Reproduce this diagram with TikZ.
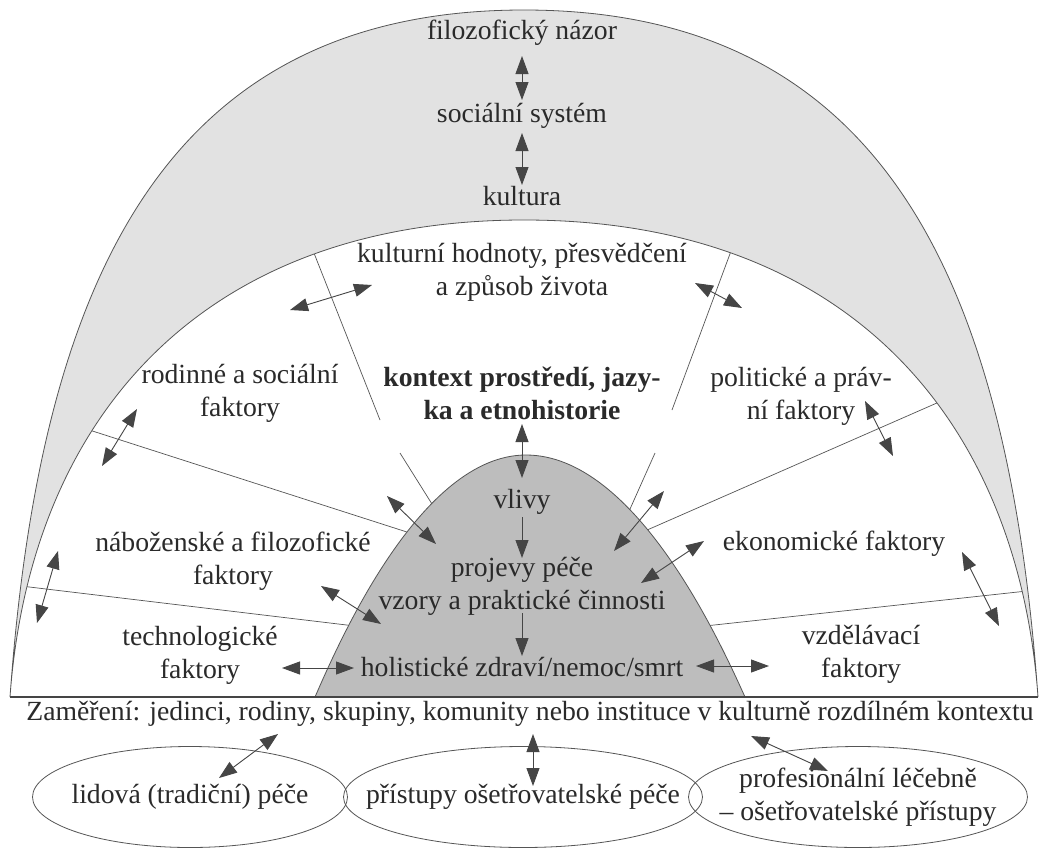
\documentclass[tikz,border=0pt]{standalone}
\usepackage{fontspec}
\setmainfont{Liberation Serif}
\usetikzlibrary{arrows.meta,shapes.geometric}
\definecolor{txt}{HTML}{2A2A2A}
\definecolor{band}{HTML}{E2E2E2}
\definecolor{domec}{HTML}{BDBDBD}
\definecolor{lnc}{HTML}{555555}
\definecolor{arr}{HTML}{454545}
\begin{document}
\begin{tikzpicture}[x=1pt,y=-1pt,
  lbl/.style={text=txt, font=\fontsize{27.7}{33}\selectfont, align=center, inner sep=0pt},
  dbl/.style={{Triangle[length=18pt,width=13pt]}-{Triangle[length=18pt,width=13pt]}, draw=arr, line width=0.9pt},
  one/.style={-{Triangle[length=18pt,width=13pt]}, draw=arr, line width=0.9pt},
  radial/.style={draw=lnc, line width=0.7pt},
  arch/.style={draw=lnc, line width=0.8pt},
  oval/.style={ellipse, draw=lnc, line width=0.8pt, inner sep=0pt}
]
\useasboundingbox (0,0) rectangle (1039,849);
\fill[white] (0,0) rectangle (1039,849);
% key points
\coordinate (BL) at (10,697);
\coordinate (BR) at (1038,697);
\coordinate (OT) at (524,10);
\coordinate (IT) at (524,220);
\coordinate (DL) at (315,697);
\coordinate (DT) at (526,455);
\coordinate (DR) at (745,697);
% radial division lines
\coordinate (r1a) at (310,243); \coordinate (r1b) at (380,420);
\coordinate (r1c) at (400,453); \coordinate (r1d) at (437,512);
\coordinate (r2a) at (734,243); \coordinate (r2b) at (672,410);
\coordinate (r2c) at (655,453); \coordinate (r2d) at (626,518);
\coordinate (r3a) at (80,427);  \coordinate (r3b) at (410,533);
\coordinate (r4a) at (946,399); \coordinate (r4b) at (638,534);
\coordinate (r5a) at (21,586);  \coordinate (r5b) at (355,626);
\coordinate (r6a) at (1027,591); \coordinate (r6b) at (705,626);
\draw[radial] (r1a) -- (r1b);
\draw[radial] (r1c) -- (r1d);
\draw[radial] (r2a) -- (r2b);
\draw[radial] (r2c) -- (r2d);
\draw[radial] (r3a) -- (r3b);
\draw[radial] (r4a) -- (r4b);
\draw[radial] (r5a) -- (r5b);
\draw[radial] (r6a) -- (r6b);
% outer band (outer arch, then inner arch back)
\filldraw[arch, fill=band] (BL) .. controls (40,280) and (165,10) .. (OT) .. controls (883,10) and (1008,280) .. (BR)
  .. controls (1018,420) and (848,220) .. (IT) .. controls (200,220) and (30,420) .. cycle;
% dome
\fill[domec] (DL) parabola bend (DT) (DR) -- cycle;
\draw[arch] (DL) parabola bend (DT) (DR);
% base line
\draw[draw=arr, line width=2.6pt] (BL) -- (BR);
% texts
\node[lbl] (fil) at (522,33) {filozofický názor};
\node[lbl] (soc) at (522,116) {sociální systém};
\node[lbl] (kul) at (522,196) {kultura};
\node[lbl] (hod) at (522,272) {kulturní hodnoty, přesvědčení\\a způsob života};
\node[lbl] (rod) at (240,393) {rodinné a sociální\\faktory};
\node[lbl, font=\fontsize{27.7}{33}\selectfont\bfseries] (ctx) at (522,393) {kontext prostředí, jazy-\\ka a etnohistorie};
\node[lbl] (pol) at (801,396) {politické a práv-\\ní faktory};
\node[lbl] (vli) at (522,502) {vlivy};
\node[lbl] (nab) at (233,561) {náboženské a filozofické\\faktory};
\node[lbl] (eko) at (834,544) {ekonomické faktory};
\node[lbl] (prj) at (522,586) {projevy péče\\vzory a praktické činnosti};
\node[lbl] (tec) at (200,655) {technologické\\faktory};
\node[lbl] (vzd) at (861,654) {vzdělávací\\faktory};
\node[lbl] (hol) at (522,667) {holistické zdraví/nemoc/smrt};
\node[lbl] (zam) at (530,714) {Zaměření: jedinci, rodiny, skupiny, komunity nebo instituce v kulturně rozdílném kontextu};
% ellipses
\node[oval, minimum width=315pt, minimum height=101pt] (e1) at (190,797) {};
\node[oval, minimum width=359pt, minimum height=101pt] (e2) at (523,797) {};
\node[oval, minimum width=339pt, minimum height=101pt] (e3) at (858,797) {};
\node[lbl] (lid) at (e1) {lidová (tradiční) péče};
\node[lbl] (pri) at (e2) {přístupy ošetřovatelské péče};
\node[lbl] (pro) at (e3) {profesionální léčebně\\– ošetřovatelské přístupy};
% arrow end points
\coordinate (a1a) at (522,56);  \coordinate (a1b) at (522,100);
\coordinate (a2a) at (522,133); \coordinate (a2b) at (522,185);
\coordinate (a3a) at (290,310); \coordinate (a3b) at (372,285);
\coordinate (a4a) at (695,283); \coordinate (a4b) at (742,308);
\coordinate (a5a) at (137,409); \coordinate (a5b) at (102,466);
\coordinate (a6a) at (865,401); \coordinate (a6b) at (893,456);
\coordinate (a7a) at (522,424); \coordinate (a7b) at (522,478);
\coordinate (a8a) at (522,517); \coordinate (a8b) at (522,558);
\coordinate (a9a) at (522,613); \coordinate (a9b) at (522,656);
\coordinate (a10a) at (387,496); \coordinate (a10b) at (436,544);
\coordinate (a11a) at (664,491); \coordinate (a11b) at (614,551);
\coordinate (a12a) at (58,551); \coordinate (a12b) at (37,623);
\coordinate (a13a) at (321,586); \coordinate (a13b) at (381,624);
\coordinate (a14a) at (704,541); \coordinate (a14b) at (641,583);
\coordinate (a15a) at (962,552); \coordinate (a15b) at (999,626);
\coordinate (a16a) at (282,668); \coordinate (a16b) at (354,668);
\coordinate (a17a) at (696,666); \coordinate (a17b) at (769,666);
\coordinate (a18a) at (278,734); \coordinate (a18b) at (219,778);
\coordinate (a19a) at (533,734); \coordinate (a19b) at (533,786);
\coordinate (a20a) at (751,736); \coordinate (a20b) at (828,771);
\draw[dbl] (a1a) -- (a1b);
\draw[dbl] (a2a) -- (a2b);
\draw[dbl] (a3a) -- (a3b);
\draw[dbl] (a4a) -- (a4b);
\draw[dbl] (a5a) -- (a5b);
\draw[dbl] (a6a) -- (a6b);
\draw[dbl] (a7a) -- (a7b);
\draw[one] (a8a) -- (a8b);
\draw[one] (a9a) -- (a9b);
\draw[dbl] (a10a) -- (a10b);
\draw[dbl] (a11a) -- (a11b);
\draw[dbl] (a12a) -- (a12b);
\draw[dbl] (a13a) -- (a13b);
\draw[dbl] (a14a) -- (a14b);
\draw[dbl] (a15a) -- (a15b);
\draw[dbl] (a16a) -- (a16b);
\draw[dbl] (a17a) -- (a17b);
\draw[dbl] (a18a) -- (a18b);
\draw[dbl] (a19a) -- (a19b);
\draw[dbl] (a20a) -- (a20b);
\end{tikzpicture}
\end{document}
